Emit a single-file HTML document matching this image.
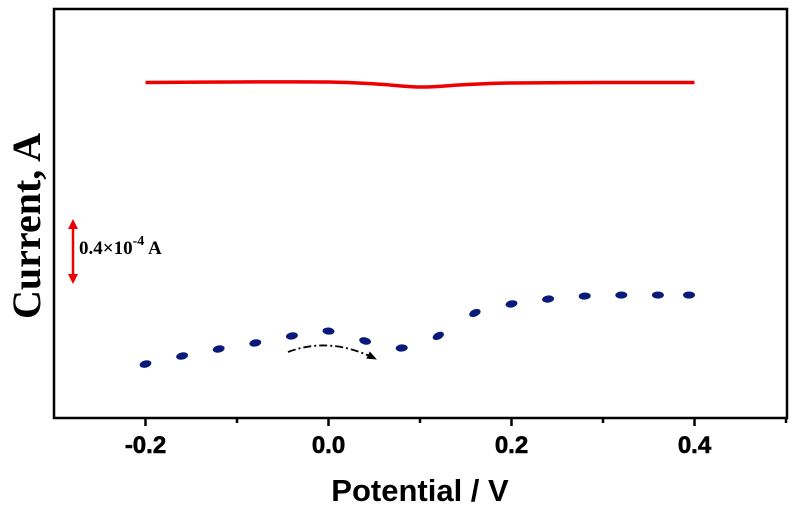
<!DOCTYPE html>
<html><head><meta charset="utf-8"><style>
html,body{margin:0;padding:0;background:#fff;}
svg{display:block;}
</style></head><body>
<svg id="chart" width="800" height="505" viewBox="0 0 800 505" xmlns="http://www.w3.org/2000/svg">
<defs>
<marker id="ah" markerWidth="10" markerHeight="8" refX="9" refY="4" orient="auto" markerUnits="userSpaceOnUse"><path d="M0,0 L10,4 L0,8 z" fill="#000"/></marker>
<marker id="rh" markerWidth="4" markerHeight="4" refX="2" refY="2" orient="auto-start-reverse"><path d="M0,0 L4,2 L0,4 z" fill="#e00"/></marker>
</defs>
<rect x="54" y="9" width="733" height="409" fill="none" stroke="#000" stroke-width="2.5"/>
<g id="xticks"></g>
<g id="series"></g>
<text transform="translate(40,226) rotate(-90)" text-anchor="middle" font-family="Liberation Serif, serif" font-weight="bold" font-size="40">Current, A</text>
<text x="420" y="501" text-anchor="middle" font-family="Liberation Sans, sans-serif" font-weight="bold" font-size="31">Potential / V</text>
<line x1="73" y1="224" x2="73" y2="279" stroke="#e00" stroke-width="2.5" marker-start="url(#rh)" marker-end="url(#rh)"/>
<text x="79" y="254" font-family="Liberation Serif, serif" font-weight="bold" font-size="19">0.4×10<tspan dy="-9" font-size="14">-4</tspan><tspan dy="9"> A</tspan></text>
<path d="M288,352 Q330,336 376,359" fill="none" stroke="#000" stroke-width="1.8" stroke-dasharray="8,3,2,3" marker-end="url(#ah)"/>
</svg>
<script>
const xTicks=[-0.2,0.0,0.2,0.4];
const xTickLabels=["-0.2","0.0","0.2","0.4"];
const xMinor=[-0.1,0.1,0.3,0.5];
const redX=[-0.2,-0.1,0.0,0.05,0.1,0.15,0.2,0.3,0.4];
const redY=[2.003,2.006,2.006,1.995,1.976,1.99,2.0,2.003,2.003];
const blueX=[-0.2,-0.16,-0.12,-0.08,-0.04,0.0,0.04,0.08,0.12,0.16,0.2,0.24,0.28,0.32,0.36,0.394];
const blueY=[0.322,0.370,0.412,0.448,0.490,0.519,0.460,0.418,0.490,0.627,0.681,0.710,0.728,0.734,0.734,0.734];
const NS="http://www.w3.org/2000/svg";
function xs(v){return 54+(v+0.3)*915;}
function ys(v){return 418-v*167.5;}
const tk=document.getElementById('xticks');
xTicks.forEach((v,i)=>{
 const l=document.createElementNS(NS,'line');
 
 
 l.setAttribute('x1',xs(v));l.setAttribute('x2',xs(v));l.setAttribute('y1',418);l.setAttribute('y2',426);
 l.setAttribute('stroke','#000');l.setAttribute('stroke-width','2.5');tk.appendChild(l);
 const t=document.createElementNS(NS,'text');
 
 
 t.setAttribute('x',xs(v));t.setAttribute('y',453);t.setAttribute('text-anchor','middle');
 t.setAttribute('font-family','Liberation Sans, sans-serif');t.setAttribute('font-weight','bold');t.setAttribute('font-size','24');
 t.setAttribute('stroke','#000');t.setAttribute('stroke-width','0.6');
 t.textContent=xTickLabels[i];tk.appendChild(t);
});
xMinor.forEach(v=>{
 const l=document.createElementNS(NS,'line');
 
 
 l.setAttribute('x1',xs(v));l.setAttribute('x2',xs(v));l.setAttribute('y1',418);l.setAttribute('y2',423);
 l.setAttribute('stroke','#000');l.setAttribute('stroke-width','2.5');tk.appendChild(l);
});
const sg=document.getElementById('series');
let pts=redX.map((x,i)=>[xs(x),ys(redY[i])]);
let d='M'+pts[0][0]+','+pts[0][1];
for(let i=0;i<pts.length-1;i++){
 const p0=pts[Math.max(0,i-1)],p1=pts[i],p2=pts[i+1],p3=pts[Math.min(pts.length-1,i+2)];
 const c1=[p1[0]+(p2[0]-p0[0])/6,p1[1]+(p2[1]-p0[1])/6],c2=[p2[0]-(p3[0]-p1[0])/6,p2[1]-(p3[1]-p1[1])/6];
 d+=` C${c1[0]},${c1[1]} ${c2[0]},${c2[1]} ${p2[0]},${p2[1]}`;
}
const rp=document.createElementNS(NS,'path');


rp.setAttribute('d',d);rp.setAttribute('fill','none');rp.setAttribute('stroke','#e00');rp.setAttribute('stroke-width','3.5');
sg.appendChild(rp);
blueX.forEach((x,i)=>{
 const px=xs(x),py=ys(blueY[i]);
 const j=Math.min(i+1,blueX.length-1),k=Math.max(i-1,0);
 const ang=Math.atan2(ys(blueY[j])-ys(blueY[k]),xs(blueX[j])-xs(blueX[k]))*180/Math.PI;
 const e=document.createElementNS(NS,'ellipse');
 
 
 e.setAttribute('cx',px);e.setAttribute('cy',py);e.setAttribute('rx',6);e.setAttribute('ry',3.6);
 e.setAttribute('transform',`rotate(${ang},${px},${py})`);e.setAttribute('fill','#0a1a7a');
 sg.appendChild(e);
});
</script>
</body></html>
